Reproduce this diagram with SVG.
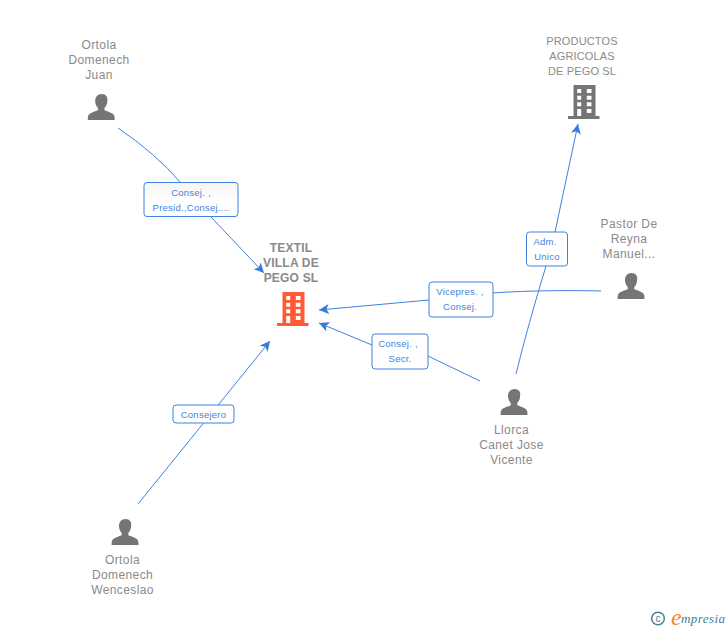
<svg xmlns="http://www.w3.org/2000/svg" width="728" height="630" viewBox="0 0 728 630">
<style>
text{font-family:"Liberation Sans",Arial,sans-serif}
.n{font-size:12px;letter-spacing:.4px;fill:#8a8a8a;text-anchor:middle}
.u{font-size:11px;letter-spacing:.15px;fill:#8a8a8a;text-anchor:middle}
.b{font-size:12px;letter-spacing:.2px;font-weight:bold;fill:#8a8a8a;text-anchor:middle}
.l{font-size:9.500px;letter-spacing:.25px;fill:#3f82e0;text-anchor:middle}
.c{fill:none;stroke:#3f82e0;stroke-width:1}
.r{fill:#fff;stroke:#3f82e0;stroke-width:1}
</style>
<defs>
<marker id="a" markerWidth="12" markerHeight="10" refX="10" refY="5" orient="auto" markerUnits="userSpaceOnUse"><path d="M0 0L10 5L0 10L2.500 5Z" fill="#3a7bd9"/></marker>
<linearGradient id="g" x1="0" y1="0" x2="0" y2="1"><stop offset="0" stop-color="#f4f4f4"/><stop offset=".5" stop-color="#fff"/></linearGradient>
<g id="p"><path d="M0 0c-4.500 0-7 3.500-7 7.500 0 3 1 5.500 3 7.500v2.500c-1.500 1-10 2.500-10.500 6-.3 1.500-.5 3-.5 4.500h29c0-1.500-.2-3-.5-4.500-.5-3.500-9-5-10.500-6V15c2-2 3-4.500 3-7.500C7 3.500 4.500 0 0 0z" fill="#757575" transform="scale(.93)"/></g>
<path id="bl" fill-rule="evenodd" d="M-10.500 0H11.500V31H15.500V34H-16V31H-10.500ZM-6.800 4V8H-2.800V4ZM2.800 4V8H7.500V4ZM-6.800 10.700V14.700H-2.800V10.700ZM2.800 10.700V14.700H7.500V10.700ZM-6.800 17.300V21.300H-2.800V17.300ZM2.800 17.300V21.300H7.500V17.300ZM-6.800 24V31H-2.800V24ZM2.800 24V28H7.500V24Z"/>
</defs>
<g id="connectors">
<path class="c" marker-end="url(#a)" d="M118 128Q155 153 181 183M211 217L264 273"/>
<path class="c" marker-end="url(#a)" d="M138 504L270 341"/>
<path class="c" marker-end="url(#a)" d="M601 291C560 290 520 291 492 293M429 300L319 310"/>
<path class="c" marker-end="url(#a)" d="M480 381L428 356M372 345L319 323"/>
<path class="c" marker-end="url(#a)" d="M516 374Q528 325 546 266M555 232L578 124"/>
</g>
<g id="lab1"><rect class="r" style="fill:url(#g)" x="144" y="182.500" width="94" height="34" rx="3"/><text class="l" x="191" y="196">Consej. ,</text><text class="l" x="191" y="211">Presid.,Consej....</text></g>
<g id="lab2"><rect class="r" x="173" y="405" width="61" height="18" rx="3"/><text class="l" x="203.500" y="417.500">Consejero</text></g>
<g id="lab3"><rect class="r" x="429" y="282" width="64" height="35" rx="3"/><text class="l" x="460" y="295">Vicepres. ,</text><text class="l" x="460" y="310">Consej.</text></g>
<g id="lab4"><rect class="r" x="372" y="334" width="56" height="35" rx="3"/><text class="l" x="398" y="347">Consej. ,</text><text class="l" x="400" y="362">Secr.</text></g>
<g id="lab5"><rect class="r" x="526.500" y="232" width="41" height="34" rx="3"/><text class="l" x="545" y="245">Adm.</text><text class="l" x="547" y="260">Unico</text></g>
<g id="textil"><text class="b" x="291" y="252">TEXTIL</text><text class="b" x="291" y="267">VILLA DE</text><text class="b" x="291" y="282">PEGO SL</text><use href="#bl" x="293" y="292" fill="#ff5a35"/></g>
<g id="productos"><text class="u" x="582" y="45">PRODUCTOS</text><text class="u" x="582" y="60">AGRICOLAS</text><text class="u" x="582" y="75">DE PEGO SL</text><use href="#bl" x="584" y="85" fill="#757575"/></g>
<g id="juan"><text class="n" x="99" y="49">Ortola</text><text class="n" x="99" y="64">Domenech</text><text class="n" x="99" y="79">Juan</text><use href="#p" x="101.700" y="94"/></g>
<g id="wenceslao"><text class="n" x="122.500" y="564">Ortola</text><text class="n" x="122.500" y="579">Domenech</text><text class="n" x="122.500" y="594">Wenceslao</text><use href="#p" x="125.500" y="519"/></g>
<g id="pastor"><text class="n" x="629" y="228">Pastor De</text><text class="n" x="629" y="243">Reyna</text><text class="n" x="629" y="258">Manuel...</text><use href="#p" x="631.500" y="273"/></g>
<g id="llorca"><use href="#p" x="514.500" y="389"/><text class="n" x="511.500" y="434">Llorca</text><text class="n" x="511.500" y="449">Canet Jose</text><text class="n" x="511.500" y="464">Vicente</text></g>
<g id="logo"><circle cx="658" cy="618.500" r="6.300" fill="none" stroke="#4d7f93" stroke-width="1.500"/><text x="658" y="622" font-size="10" fill="#4d7f93" text-anchor="middle">c</text><text x="671" y="625" font-size="24" font-style="italic" fill="#f28a1c" style="font-family:'Liberation Serif',serif">e</text><text x="681" y="623" font-size="13" font-style="italic" fill="#3d7f96" textLength="44" style="font-family:'Liberation Serif',serif">mpresia</text></g>
</svg>
